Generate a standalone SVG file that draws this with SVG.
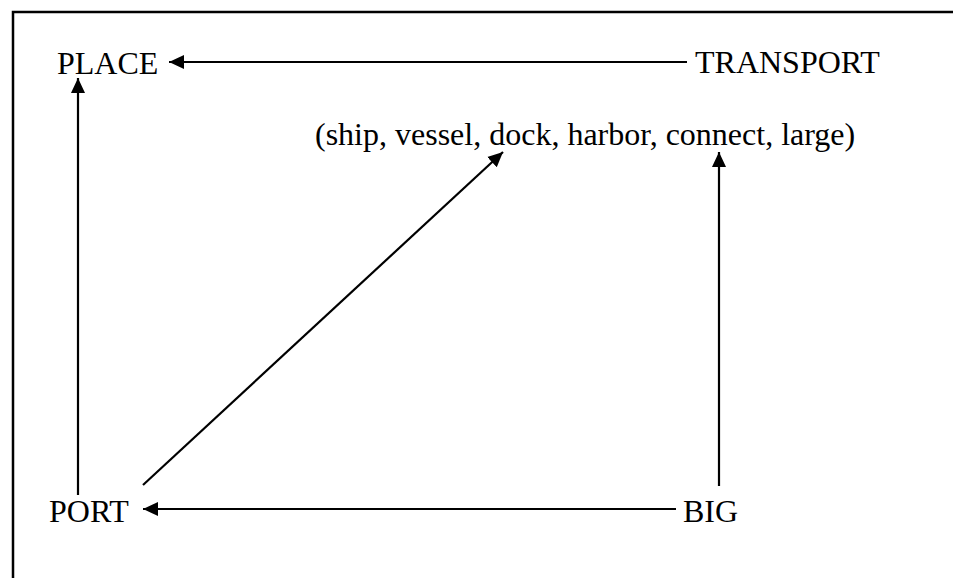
<svg xmlns="http://www.w3.org/2000/svg" width="953" height="578" viewBox="0 0 953 578">
  <style>
    .lbl { font-family: "Liberation Serif", "Times New Roman", serif; font-size: 32px; fill: #000; }
    .edge { stroke: #000; stroke-width: 2.2; fill: none; marker-end: url(#head); }
    .frame { stroke: #000; stroke-width: 2.5; fill: none; }
  </style>
  <defs>
    <marker id="head" markerUnits="userSpaceOnUse" markerWidth="16" markerHeight="16" viewBox="0 0 16 16" refX="15" refY="8" orient="auto">
      <path d="M0,1 L15,8 L0,15 Z" fill="#000"/>
    </marker>
  </defs>

  <!-- open frame: top and left sides -->
  <path class="frame" d="M13,578 L13,12 L953,12"/>

  <g id="connectors">
    <line class="edge" x1="687" y1="62" x2="169" y2="62"/>
    <line class="edge" x1="78" y1="495" x2="78" y2="78"/>
    <line class="edge" x1="143" y1="485" x2="503" y2="152"/>
    <line class="edge" x1="719" y1="486" x2="719" y2="152"/>
    <line class="edge" x1="676" y1="509" x2="143" y2="509"/>
  </g>

  <g id="place"><text class="lbl" x="57" y="74">PLACE</text></g>
  <g id="transport"><text class="lbl" x="695" y="73">TRANSPORT</text></g>
  <g id="features"><text class="lbl" x="315" y="145">(ship, vessel, dock, harbor, connect, large)</text></g>
  <g id="port"><text class="lbl" x="49" y="522">PORT</text></g>
  <g id="big"><text class="lbl" x="683" y="522">BIG</text></g>
</svg>
